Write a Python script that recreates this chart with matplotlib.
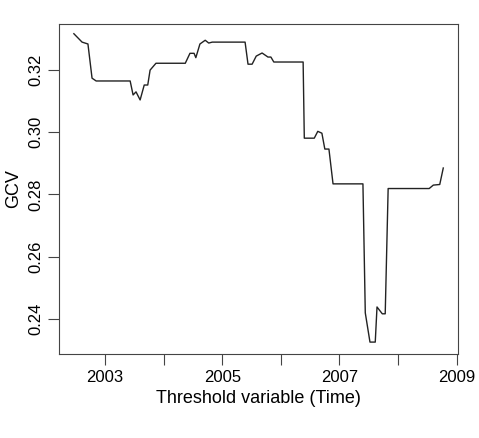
import matplotlib
matplotlib.use("Agg")
import matplotlib.pyplot as plt

plt.rcParams['font.family'] = ['Liberation Sans', 'DejaVu Sans']

years = [2002.47, 2002.61, 2002.71, 2002.78, 2002.85, 2003.43, 2003.48, 2003.53, 2003.60, 2003.67, 2003.73,
         2003.77, 2003.87, 2004.37, 2004.45, 2004.52, 2004.55, 2004.62, 2004.71, 2004.77, 2004.83, 2004.86,
         2005.39, 2005.44, 2005.51, 2005.58, 2005.68, 2005.78, 2005.83, 2005.88, 2006.38, 2006.40, 2006.57,
         2006.63, 2006.70, 2006.75, 2006.82, 2006.89, 2007.40, 2007.44, 2007.52, 2007.61, 2007.64, 2007.73,
         2007.78, 2007.83, 2008.53, 2008.60, 2008.71, 2008.77]
gcv = [0.3317, 0.3290, 0.3284, 0.3174, 0.3165, 0.3165, 0.3120, 0.3130, 0.3104, 0.3152, 0.3152,
       0.3200, 0.3222, 0.3222, 0.3254, 0.3254, 0.3240, 0.3284, 0.3296, 0.3287, 0.3290, 0.3290,
       0.3290, 0.3219, 0.3219, 0.3245, 0.3255, 0.3242, 0.3242, 0.3226, 0.3226, 0.2981, 0.2981,
       0.3003, 0.2997, 0.2946, 0.2946, 0.2834, 0.2834, 0.2419, 0.2325, 0.2325, 0.2438, 0.2416,
       0.2416, 0.2819, 0.2819, 0.2830, 0.2832, 0.2885]

fig = plt.figure(figsize=(4.79, 4.38), dpi=100)
ax = fig.add_axes([0.123, 0.192, 0.833, 0.753])
ax.plot(years, gcv, color="#222222", lw=1.0)
ax.set_xlim(2002.215, 2009.02)
ax.set_ylim(0.2287, 0.3348)
ax.set_xticks(range(2003, 2010))
ax.set_xticklabels(["2003", "", "2005", "", "2007", "", "2009"])
ax.set_yticks([0.24, 0.26, 0.28, 0.30, 0.32])
ax.set_yticklabels(["0.24", "0.26", "0.28", "0.30", "0.32"], rotation=90, va="center")
ax.tick_params(labelsize=12, length=8, color="#444444")
ax.set_xlabel("Threshold variable (Time)", fontsize=13)
ax.set_ylabel("GCV", fontsize=13)
for s in ax.spines.values():
    s.set_color("#444444")
fig.savefig("out.png", dpi=100)
